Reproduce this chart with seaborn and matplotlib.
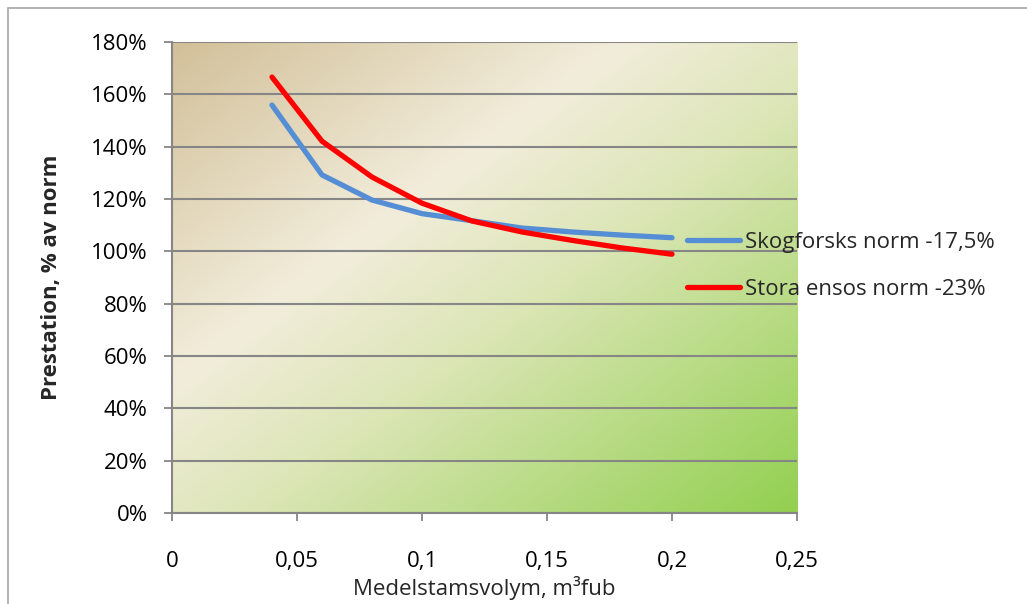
import numpy as np
import pandas as pd
import matplotlib
matplotlib.use("Agg")
import matplotlib.pyplot as plt
import seaborn as sns
from matplotlib.colors import LinearSegmentedColormap
from matplotlib.patches import Rectangle

# ---- data ----
x_vals = [0.04, 0.06, 0.08, 0.10, 0.12, 0.14, 0.16, 0.18, 0.20]
skogforsk = [155.9, 129.2, 119.6, 114.4, 111.7, 108.9, 107.4, 106.2, 105.2]
stora = [166.6, 142.1, 128.4, 118.4, 111.6, 107.4, 104.2, 101.3, 98.9]
series_names = ["Skogforsks norm -17,5%", "Stora ensos norm -23%"]
x_ticks = [0, 0.05, 0.1, 0.15, 0.2, 0.25]
x_ticklabels = ["0", "0,05", "0,1", "0,15", "0,2", "0,25"]
y_ticks = [0, 20, 40, 60, 80, 100, 120, 140, 160, 180]
y_ticklabels = [f"{v}%" for v in y_ticks]

df = pd.DataFrame({
    "x": x_vals * 2,
    "y": skogforsk + stora,
    "serie": [series_names[0]] * len(x_vals) + [series_names[1]] * len(x_vals),
})

sns.set_style("white")
plt.rcParams["font.family"] = ["Open Sans", "DejaVu Sans"]
FS = 16

fig = plt.figure(figsize=(10.27, 6.04), dpi=100)
ax = fig.add_axes([172 / 1027, 1 - 513 / 604, (797 - 172) / 1027, (513 - 42) / 604])

# gradient background
n = 300
u = np.linspace(0, 1, n)
v = np.linspace(1, 0, n)
U, V = np.meshgrid(u, v)
T = (U + (1 - V)) / 2
cmap = LinearSegmentedColormap.from_list(
    "bg", [(0.0, "#d2c099"), (0.36, "#f2eddb"), (0.55, "#dde6b8"), (1.0, "#92d050")])
ax.imshow(T, cmap=cmap, extent=(0, 1, 0, 1), transform=ax.transAxes,
          aspect="auto", zorder=0, interpolation="bilinear", vmin=0, vmax=1)

palette = {series_names[0]: "#558ed5", series_names[1]: "#ff0000"}
sns.lineplot(data=df, x="x", y="y", hue="serie", palette=palette, ax=ax,
             linewidth=3.8, zorder=3, legend=True)
for ln in ax.get_lines():
    ln.set_solid_capstyle("round")
    ln.set_solid_joinstyle("round")

ax.set_xlim(0, 0.25)
ax.set_ylim(0, 180)
ax.set_yticks(y_ticks)
ax.set_yticklabels(y_ticklabels)
ax.set_xticks(x_ticks)
ax.set_xticklabels(x_ticklabels)
ax.grid(axis="y", color="#868686", linewidth=1.5, zorder=1)
ax.grid(axis="x", visible=False)
ax.set_axisbelow(False)

for s in ["top", "right"]:
    ax.spines[s].set_visible(False)
for s in ["left", "bottom"]:
    ax.spines[s].set_color("#868686")
    ax.spines[s].set_linewidth(1.5)
ax.tick_params(axis="both", which="major", direction="out", length=5.5, width=1.3,
               color="#868686", labelsize=FS, labelcolor="black")
ax.tick_params(axis="y", pad=12)
ax.tick_params(axis="x", pad=22)
ax.tick_params(left=True, bottom=True)

ax.set_ylabel("Prestation, % av norm", fontsize=FS, fontweight="bold", labelpad=21)
ax.set_xlabel("Medelstamsvolym, m³fub", fontsize=FS, labelpad=3)

h, l = ax.get_legend_handles_labels()
ax.legend(h, l, loc="center left", bbox_to_anchor=(678 / 1027, 1 - 266 / 604),
          bbox_transform=fig.transFigure, frameon=False, fontsize=FS,
          handlelength=2.4, handletextpad=0.2, labelspacing=1.15, borderaxespad=0)
for lh in ax.get_legend().get_lines():
    lh.set_linewidth(3.8)

fig.patches.append(Rectangle((8 / 1027, -0.1), 1.2, 1 - 8 / 604 + 0.1,
                             transform=fig.transFigure, fill=False,
                             edgecolor="#a6a6a6", linewidth=1.2))

fig.savefig("out.png", dpi=100)
